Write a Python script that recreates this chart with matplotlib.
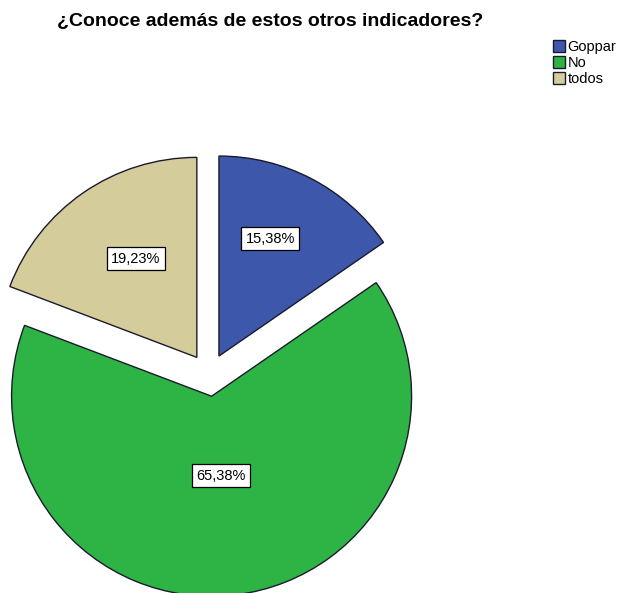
import numpy as np
import matplotlib.pyplot as plt

plt.rcParams['font.family'] = ['Liberation Sans', 'DejaVu Sans']

# Respuestas
categorias = ['Goppar', 'No', 'todos']
porcentajes = [15.38, 65.38, 19.23]
colores = ['#3D57AB', '#2EB444', '#D5CC9B']
etiquetas = ['15,38%', '65,38%', '19,23%']

fig = plt.figure(figsize=(6.22, 5.93), dpi=100)
ax = fig.add_axes([0, 0, 1, 1])

centro = (209, 593 - 375)
radio = 200
# en pie() el desplazamiento va en unidades de datos, no se escala con el radio
separacion = 0.107 * radio
wedges, _ = ax.pie(porcentajes, colors=colores, startangle=90, counterclock=False,
                   explode=[separacion] * 3, radius=radio, center=centro,
                   wedgeprops=dict(edgecolor='#1a1a2e', linewidth=1.0))

# etiquetas de porcentaje dentro de cada sector
dist_etiqueta = [0.64, 0.40, 0.58]
giro = [4, 0, -3]  # pequeño ajuste angular respecto a la bisectriz
for w, txt, d, g in zip(wedges, etiquetas, dist_etiqueta, giro):
    ang = np.deg2rad((w.theta1 + w.theta2) / 2 + g)
    cx, cy = w.center
    ax.text(cx + d * radio * np.cos(ang), cy + d * radio * np.sin(ang), txt,
            ha='center', va='center', fontsize=10.5,
            bbox=dict(boxstyle='square,pad=0.3', facecolor='white',
                      edgecolor='black', linewidth=0.9))

ax.set_xlim(0, 622)
ax.set_ylim(0, 593)
ax.set_aspect('equal')
ax.axis('off')

fig.text(0.435, 0.963, '¿Conoce además de estos otros indicadores?',
         ha='center', va='center', fontsize=14, fontweight='bold')

ax.legend(wedges, categorias, loc='upper left', bbox_to_anchor=(0.877, 0.945),
          frameon=False, fontsize=10.5, handlelength=0.85, handleheight=0.85,
          handletextpad=0.15, labelspacing=0.15, borderpad=0)

fig.savefig('out.png', dpi=100, facecolor='white')
